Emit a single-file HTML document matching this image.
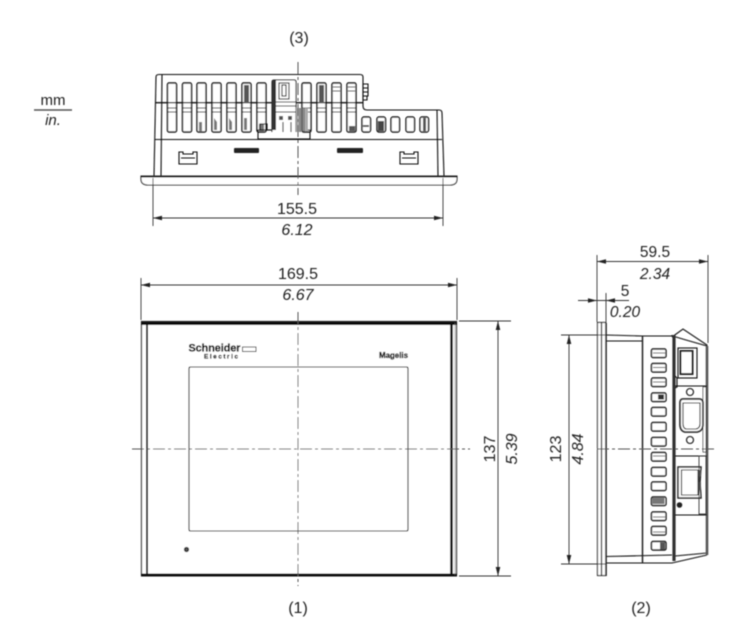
<!DOCTYPE html>
<html><head><meta charset="utf-8"><title>Dimensions</title>
<style>
html,body{margin:0;padding:0;background:#fff}
svg{display:block}
text{font-family:"Liberation Sans",Arial,sans-serif;font-size:16px;fill:#222}
.i{font-style:italic}
.m{text-anchor:middle}
.l{fill:none;stroke:#111;stroke-width:1.1}
.d{fill:none;stroke:#333;stroke-width:.9}
.c{fill:none;stroke:#555;stroke-width:1;stroke-dasharray:12 3 3 3}
.s{fill:#fff;stroke:#111;stroke-width:1.4}
.k{fill:#222;stroke:none}
</style></head><body>
<svg width="750" height="640" viewBox="0 0 750 640" xmlns="http://www.w3.org/2000/svg">
<defs>
<filter id="b" x="-2%" y="-2%" width="104%" height="104%"><feGaussianBlur stdDeviation="0.45"/></filter>
<g id="slot"><rect x="0" y="0" width="9" height="49" rx="1.5" class="s"/><path d="M0 19.5H9M0 25H9M0 29H9" class="l"/></g>
<g id="sm"><rect x="0" y="0" width="8.5" height="15" rx="2" class="s"/></g>
<g id="sd"><rect x="0" y="0" width="14.5" height="8.5" rx="1.5" class="s"/></g>
<path id="ar" d="M0 0L9 -2.3V2.3Z" class="k"/>
</defs>
<g filter="url(#b)">

<!-- mm / in. -->
<text x="53" y="105" class="m" style="font-size:15px">mm</text>
<path d="M34 110H72" stroke="#555" stroke-width="1.4"/>
<text x="53" y="125" class="m i" style="font-size:15px">in.</text>
<text x="299" y="43" class="m">(3)</text>

<!-- TOP VIEW -->
<path d="M154 176L156 77Q156 74.5 159 74.5H360Q363 74.5 363 77V106Q363 110 367 110H439Q442 110 442 113L444 176" class="l" stroke-width="1.3"/>
<path d="M156 102.7H363M155 139.5H442M162 75L161 176M437 110L438 176" class="l"/>
<path d="M363 84h5v4h-5zM363 88h5v4h-5zM363 92h5v4h-5zM363 96h4v4h-4z" class="l" stroke-width=".7"/>
<use href="#slot" x="167.5" y="83"/><use href="#slot" x="182.5" y="83"/><use href="#slot" x="197" y="83"/><use href="#slot" x="212" y="83"/><use href="#slot" x="227" y="83"/><use href="#slot" x="242" y="83"/><use href="#slot" x="257" y="83"/>
<use href="#slot" x="302" y="83"/><use href="#slot" x="317" y="83"/><use href="#slot" x="332" y="83"/><use href="#slot" x="347" y="83"/>
<path d="M156 102.7H363" class="l"/>
<rect x="244" y="85" width="5" height="18" fill="#555"/>
<rect x="319" y="85" width="5" height="18" fill="#555"/>
<path d="M199 122h3v9h-3zM214 118l3 4v8h-3zM229 118l3 4v8h-3zM244 118h3v12h-3zM259 124h5v7h-5z" fill="#777"/>
<path d="M333 87h7M348 87h7M333 91h7M348 91h7" class="l"/>
<rect x="349" y="126" width="6" height="5" fill="#555"/>
<!-- centre latch -->
<rect x="258" y="130" width="52" height="9" class="l" fill="#fff" stroke-width="1.3"/>
<path d="M272 132V82Q272 80 274 80H294Q296 80 296 82V132" fill="#fff" stroke="#222" stroke-width="1.1"/>
<rect x="272" y="80" width="4" height="50" fill="#333"/>
<rect x="279" y="83" width="10" height="16" class="l"/>
<rect x="282" y="85" width="4" height="11" class="l" stroke-width=".7"/>
<path d="M276 102H296M276 106H296M276 112H296" class="l"/>
<path d="M279 116h4v4h-4zM288 116h4v4h-4z" fill="#555"/>
<path d="M283 122V132M291 122V132" class="l"/>
<rect x="260" y="124" width="7" height="6" class="l" stroke-width=".7"/>
<rect x="296" y="108" width="12" height="24" fill="#aaa"/>
<path d="M300 108V132M304 108V132" stroke="#666" fill="none"/>
<rect x="302" y="83" width="9" height="49" rx="1.5" fill="none" stroke="#222" stroke-width="1.2"/>
<!-- small slots -->
<use href="#sm" x="362" y="117"/><use href="#sm" x="377" y="117"/><use href="#sm" x="391" y="117"/><use href="#sm" x="406" y="117"/><use href="#sm" x="420" y="117"/>
<rect x="363" y="125" width="6" height="2" fill="#555"/>
<rect x="378" y="121" width="6" height="10" fill="#444"/>
<rect x="423" y="118" width="3" height="13" fill="#555"/>
<!-- clips -->
<path d="M179 152H183V154H193V152H197V164H179ZM181 158H195" class="l" stroke-width="1.4"/>
<path d="M400 152H404V154H414V152H418V164H400ZM402 158H416" class="l" stroke-width="1.4"/>
<rect x="234" y="148" width="25" height="5" rx="1" fill="#222"/>
<rect x="337" y="148" width="26" height="5" rx="1" fill="#222"/>
<!-- flange -->
<path d="M141 176H457V179Q457 185 450 185H148Q141 185 141 179Z" fill="#fff" stroke="#222" stroke-width="1.1"/>
<path d="M141 177H457" class="l"/>
<!-- top dims -->
<path d="M153 178V226M443 178V226" class="d"/>
<path d="M153 218H443" class="d"/>
<use href="#ar" x="153" y="218"/><use href="#ar" transform="translate(443 218) rotate(180)"/>
<text x="297" y="214" class="m">155.5</text>
<text x="297" y="235" class="m i">6.12</text>
<path d="M298 62V195" class="c"/>

<!-- FRONT VIEW -->
<rect x="141.5" y="321.5" width="315" height="254" fill="#fff" stroke="#222" stroke-width="1.2"/>
<path d="M141 323.5H457" stroke="#111" stroke-width="3" fill="none"/>
<path d="M141 575H457" stroke="#111" stroke-width="3" fill="none"/>
<path d="M147 323V575" stroke="#111" stroke-width="2" fill="none"/>
<path d="M451.5 323V575" stroke="#111" stroke-width="2.6" fill="none"/>
<path d="M455 323V575" stroke="#777" stroke-width=".5" fill="none"/>
<rect x="189" y="367" width="219" height="164" rx="1.5" class="l" stroke-width="1.1"/>
<circle cx="186.5" cy="549.5" r="2" fill="#555" stroke="#222" stroke-width="1.2"/>
<text x="188.5" y="351.5" textLength="52" lengthAdjust="spacingAndGlyphs" style="font-size:11px;font-weight:bold;fill:#000;stroke:#000;stroke-width:.3">Schneider</text>
<text x="204" y="358.5" textLength="34" style="font-size:6.5px;font-weight:bold;fill:#000;stroke:#000;stroke-width:.2">Electric</text>
<rect x="242.5" y="347" width="13.5" height="4.5" fill="#fff" stroke="#333" stroke-width=".9"/>
<text x="379" y="358" textLength="29" lengthAdjust="spacingAndGlyphs" style="font-size:8.5px;font-weight:bold;fill:#000;stroke:#000;stroke-width:.3">Magelis</text>
<!-- front dims -->
<path d="M141 278V320M457 278V320" class="d"/>
<path d="M141 285H457" class="d"/>
<use href="#ar" x="141" y="285"/><use href="#ar" transform="translate(457 285) rotate(180)"/>
<text x="298" y="279" class="m">169.5</text>
<text x="298" y="300" class="m i">6.67</text>
<path d="M459 321H511M459 576H511" class="d"/>
<path d="M498 321V576" class="d"/>
<use href="#ar" transform="translate(498 321) rotate(90)"/><use href="#ar" transform="translate(498 576) rotate(-90)"/>
<text transform="translate(495 449) rotate(-90)" class="m">137</text>
<text transform="translate(517 449) rotate(-90)" class="m i">5.39</text>
<path d="M298 312V586" class="c"/>
<path d="M132 449H470" class="c"/>
<text x="298" y="613" class="m">(1)</text>

<!-- SIDE VIEW -->
<path d="M606 335L642 336H672V335M606 341H642" class="l"/>
<path d="M606 556.5L672 555M606 563H672L707 555M675 556L707 553" class="l"/>
<path d="M672 337L683 329L707 345V555" class="l" stroke-width="1"/>
<path d="M672 337H676L686 340L707 346" class="l"/>
<path d="M642.5 336V563" stroke="#222" stroke-width="1.5" fill="none"/>
<path d="M674 335V561" stroke="#333" stroke-width="3.2" fill="none"/>
<path d="M707 346V555" stroke="#555" stroke-width="2.6" fill="none"/>
<rect x="597.5" y="322.5" width="8.5" height="253" fill="#fff" stroke="#222" stroke-width="1.1"/>
<path d="M601.5 323V575" stroke="#333" stroke-width="1.3" fill="none"/>
<path d="M606 323V576" stroke="#222" stroke-width="1.6" fill="none"/>
<use href="#sd" x="651.5" y="349"/><use href="#sd" x="651.5" y="363.5"/><use href="#sd" x="651.5" y="378"/><use href="#sd" x="651.5" y="393"/><use href="#sd" x="651.5" y="407.5"/><use href="#sd" x="651.5" y="422.5"/><use href="#sd" x="651.5" y="437.5"/><use href="#sd" x="651.5" y="452.5"/><use href="#sd" x="651.5" y="467.5"/><use href="#sd" x="651.5" y="482"/><use href="#sd" x="651.5" y="497"/><use href="#sd" x="651.5" y="512"/><use href="#sd" x="651.5" y="526.5"/><use href="#sd" x="651.5" y="541.5"/>
<path d="M653 353H665M653 367.5H665M653 382H665M653 456H665M653 517H665M653 532H665" stroke="#555" fill="none"/>
<rect x="658" y="394.5" width="6" height="5" fill="#333"/>
<rect x="652.5" y="498" width="12" height="6" fill="#777"/>
<rect x="660" y="542.5" width="5" height="7" fill="#555"/>
<!-- USB -->
<rect x="678" y="348" width="19" height="30" class="l" stroke-width="1.2"/>
<rect x="680.5" y="351" width="12" height="23" fill="#fff" stroke="#222" stroke-width="2"/>
<path d="M675 386H707M675 515H707M675 456H707" class="l"/>
<path d="M675 376L677 378V387L675 388" class="l"/>
<!-- DB9 -->
<rect x="703" y="387" width="3" height="65" fill="#fff" stroke="#333" stroke-width=".8"/>
<circle cx="690" cy="392" r="3.5" class="l" stroke-width="1.2"/>
<path d="M683 399H699Q703 399 703 403V424Q703 431 697 432H685Q680 431 680 424V403Q680 399 683 399Z" fill="#fff" stroke="#333" stroke-width="1.8"/>
<path d="M683 403H700V424Q700 428 696 429H686Q683 428 683 424Z" class="l" stroke-width=".8"/>
<circle cx="690" cy="440" r="3.5" class="l" stroke-width="1.2"/>
<!-- RJ45 -->
<path d="M678 467H701L700 482L701 498H678Z" fill="#fff" stroke="#222" stroke-width="1.5"/>
<path d="M681.5 470H698V495H681.5Z" class="l" stroke-width=".8"/>
<rect x="698" y="482" width="3" height="8" fill="#555"/>
<rect x="698" y="470" width="3" height="6" fill="#555"/>
<rect x="699" y="456" width="7" height="58" fill="none" stroke="#333" stroke-width=".9"/>
<circle cx="679.5" cy="505" r="2.8" fill="#222"/>
<!-- side dims -->
<path d="M597 255V322M708 255V343" class="d"/>
<path d="M597 261.5H708" class="d"/>
<use href="#ar" x="597" y="261.5"/><use href="#ar" transform="translate(708 261.5) rotate(180)"/>
<text x="655" y="257" class="m" style="font-size:15.5px">59.5</text>
<text x="655" y="279" class="m i" style="font-size:15.5px">2.34</text>
<path d="M606 293V323" class="d"/>
<path d="M578 300.5H629" class="d"/>
<use href="#ar" transform="translate(597 300.5) rotate(180)"/><use href="#ar" x="606" y="300.5"/>
<text x="625" y="296" class="m" style="font-size:15.5px">5</text>
<text x="625" y="317" class="m i" style="font-size:15.5px">0.20</text>
<path d="M561 335H606M561 564H606" class="d"/>
<path d="M569 335V564" class="d"/>
<use href="#ar" transform="translate(569 335) rotate(90)"/><use href="#ar" transform="translate(569 564) rotate(-90)"/>
<text transform="translate(561 449) rotate(-90)" class="m">123</text>
<text transform="translate(583 449) rotate(-90)" class="m i">4.84</text>
<path d="M597 449H716" class="c"/>
<text x="641" y="613" class="m">(2)</text>
</g>
</svg>
</body></html>
